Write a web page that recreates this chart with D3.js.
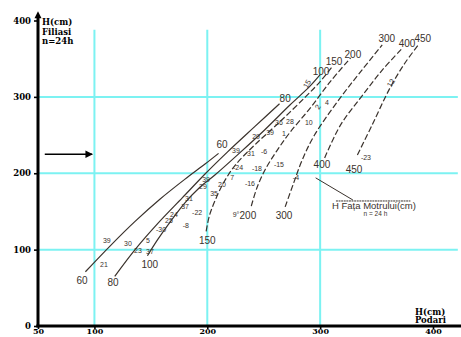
<!DOCTYPE html>
<html>
<head>
<meta charset="utf-8">
<script src="https://cdn.jsdelivr.net/npm/d3@7"></script>
<style>
  html, body { margin: 0; padding: 0; background: #fff; }
  svg { display: block; }
</style>
</head>
<body>
<svg id="chart" width="461" height="337"></svg>
<script>
// ---- axis ticks and grid ----
const xTicks = [50, 100, 200, 300, 400];
const yTicks = [0, 100, 200, 300, 400];
const gridX = [100, 200, 300];
const gridY = [100, 200, 300];

// ---- correlation curves: H Podari (x, cm) against H Filiasi (y, cm) ----
const curveNames = ["60", "80", "100", "150", "200", "300", "400", "450"];
const curve60  = [[92,71],[114,105],[136,137],[158,166],[180,192],[198,212],[210,226]];
const curve80  = [[118,65],[136,100],[156,134],[178,168],[198,199],[218,228],[242,261],[264,291]];
const curve100 = [[147,92],[156,113],[167,136],[180,161],[193,181],[207,198],[229,227],[251,257],[273,289],[291,314],[300,329]];
const curve150 = [[199,124],[202,145],[208,168],[215,189],[225,211],[242,237],[264,267],[287,300],[300,320],[311,340]];
const curve200 = [[239,157],[244,181],[251,204],[261,228],[273,253],[291,285],[309,320],[327,351]];
const curve300 = [[269,156],[276,185],[284,217],[295,250],[319,301],[337,335],[355,368]];
const curve400 = [[304,220],[318,263],[337,301],[355,335],[373,364]];
const curve450 = [[333,224],[346,263],[362,312],[375,344],[387,368]];
const curves = [curve60, curve80, curve100, curve150, curve200, curve300, curve400, curve450];

// curve labels at the lower and upper ends: [text, x, y]
const lowerLabels = [["60",89,60],["80",116.5,57.6],["100",149,80],["150",200,112.6],
                     ["200",236,145.3],["300",268,145.3],["400",301.6,212],["450",330,204.3]];
const upperLabels = [["60",213,237],["80",269,298.5],["100",300.8,332.6],["150",312.3,345.7],
                     ["200",329,356],["300",359,375.8],["400",377,370.5],["450",391,375.8]];
const strayMark = [["9°",225.5,146.5]];

// observation numbers written next to the curves: [text, x, y]
const pointLabels = [
  ["39",111,111.3],["21",108.5,80],["30",129.7,107.4],["5",147.5,111.3],["23",138.6,98.2],
  ["37",149.2,96.9],["-30",159,127],["24",170.5,146.6],["25",166,137.5],["-8",181,131],
  ["-22",191,148],["37",180.3,157],["31",183.8,166.3],["39",198.9,191.2],["29",196.2,182],
  ["20",213,185.9],["35",206,174.1],["7",222,193.8],["-24",227.2,206.9],["-16",237.8,187.2],
  ["-18",244,205.6],["-15",263.5,212],["-4",278.6,195],["39",225.4,230.4],["31",238.7,226.5],
  ["-6",250.3,229],["29",243.2,247.5],["39",255.6,254],["1",268,251.4],["28",273.3,268.4],
  ["36",263.5,265.8],["10",290,265.8],["4",306,292],["-23",340.6,220]
];
const tiltedLabels = [["15",288.4,317],["2",298,286.7],["12",362.8,318.2]];

// arrow marker on the left and the Fața Motrului note
const arrowLine = [[56,225],[98,225]];
const noteLeader = [[296,194],[329,165]];
const noteUnderline = [[314,163.7],[380,163.7]];
const noteTitle = ["H Fața Motrului(cm)", 310.5, 153.2];
const noteSub = ["n = 24 h", 349, 144];

// axis titles
const yTitle = ["H(cm)", "Filiasi", "n=24h"];
const xTitle = ["H(cm)", "Podari"];

// ---- drawing ----
const svg = d3.select("#chart");
const x = d3.scaleLinear().domain([50, 400]).range([38, 433]);
const y = d3.scaleLinear().domain([0, 400]).range([326, 20.5]);

const ink = "#3a322c";
const grid = "#7cf2f2";
const serif = "'DejaVu Serif', 'Liberation Serif', serif";
const hand = "'Liberation Sans', Arial, sans-serif";

// grid
svg.append("g").selectAll("line").data(gridX).join("line")
  .attr("x1", d => x(d)).attr("x2", d => x(d))
  .attr("y1", y(0)).attr("y2", y(388))
  .attr("stroke", grid).attr("stroke-width", 2);
svg.append("g").selectAll("line").data(gridY).join("line")
  .attr("x1", x(50)).attr("x2", x(422))
  .attr("y1", d => y(d)).attr("y2", d => y(d))
  .attr("stroke", grid).attr("stroke-width", 2);

// curves
const line = d3.line().x(d => x(d[0])).y(d => y(d[1])).curve(d3.curveCatmullRom.alpha(0.5));
const dashedSet = new Set(["150", "200", "300", "400", "450"]);
svg.append("g").selectAll("path").data(curves).join("path")
  .attr("d", line)
  .attr("fill", "none")
  .attr("stroke", ink)
  .attr("stroke-width", 1.2)
  .attr("stroke-dasharray", (d, i) => dashedSet.has(curveNames[i]) ? "6,2.5" : null);

// curve end labels
svg.append("g").selectAll("text").data(lowerLabels.concat(upperLabels)).join("text")
  .attr("x", d => x(d[1])).attr("y", d => y(d[2]))
  .attr("text-anchor", "middle").attr("dominant-baseline", "central")
  .attr("font-family", hand).attr("font-size", 10).attr("fill", ink)
  .text(d => d[0]);
svg.append("g").selectAll("text").data(strayMark).join("text")
  .attr("x", d => x(d[1])).attr("y", d => y(d[2]))
  .attr("text-anchor", "middle").attr("dominant-baseline", "central")
  .attr("font-family", hand).attr("font-size", 7).attr("fill", ink)
  .text(d => d[0]);

// observation numbers
svg.append("g").selectAll("text").data(pointLabels).join("text")
  .attr("x", d => x(d[1])).attr("y", d => y(d[2]))
  .attr("text-anchor", "middle").attr("dominant-baseline", "central")
  .attr("font-family", hand).attr("font-size", 7).attr("fill", ink)
  .text(d => d[0]);
svg.append("g").selectAll("text").data(tiltedLabels).join("text")
  .attr("transform", d => `translate(${x(d[1])},${y(d[2])}) rotate(-60)`)
  .attr("text-anchor", "middle").attr("dominant-baseline", "central")
  .attr("font-family", hand).attr("font-size", 7.5).attr("fill", ink)
  .text(d => d[0]);

// arrow
const defs = svg.append("defs");
defs.append("marker").attr("id", "head").attr("viewBox", "0 0 10 10")
  .attr("refX", 9).attr("refY", 5).attr("markerWidth", 5).attr("markerHeight", 5)
  .attr("orient", "auto")
  .append("path").attr("d", "M0,0 L10,5 L0,10 Z").attr("fill", "#000");
svg.append("line")
  .attr("x1", x(arrowLine[0][0])).attr("y1", y(arrowLine[0][1]))
  .attr("x2", x(arrowLine[1][0])).attr("y2", y(arrowLine[1][1]))
  .attr("stroke", "#000").attr("stroke-width", 1.5).attr("marker-end", "url(#head)");

// Fața Motrului note
svg.append("line")
  .attr("x1", x(noteLeader[0][0])).attr("y1", y(noteLeader[0][1]))
  .attr("x2", x(noteLeader[1][0])).attr("y2", y(noteLeader[1][1]))
  .attr("stroke", ink).attr("stroke-width", 1);
svg.append("line")
  .attr("x1", x(noteUnderline[0][0])).attr("y1", y(noteUnderline[0][1]))
  .attr("x2", x(noteUnderline[1][0])).attr("y2", y(noteUnderline[1][1]))
  .attr("stroke", ink).attr("stroke-width", 1).attr("stroke-dasharray", "2,0.6");
svg.append("text").attr("x", x(noteTitle[1])).attr("y", y(noteTitle[2]))
  .attr("font-family", hand).attr("font-size", 9.5).attr("fill", ink).text(noteTitle[0]);
svg.append("text").attr("x", x(noteSub[1])).attr("y", y(noteSub[2]))
  .attr("text-anchor", "middle")
  .attr("font-family", hand).attr("font-size", 6.5).attr("fill", ink).text(noteSub[0]);

// axes
const axisX = svg.append("g").attr("transform", `translate(0,${y(0)})`)
  .call(d3.axisBottom(x).tickValues(xTicks).tickSize(3).tickPadding(-0.5).tickFormat(d3.format("d")));
const axisY = svg.append("g").attr("transform", `translate(${x(50)},0)`)
  .call(d3.axisLeft(y).tickValues(yTicks).tickSize(4).tickPadding(3).tickFormat(d3.format("d")));
[axisX, axisY].forEach(g => {
  g.select(".domain").remove();
  g.selectAll(".tick line").attr("stroke", "#000").attr("stroke-width", 1.6);
  g.selectAll(".tick text").attr("font-family", serif).attr("font-weight", "bold")
    .attr("font-size", 8.5).attr("fill", "#000");
});
axisX.selectAll(".tick text").attr("font-size", 8);

svg.append("line")
  .attr("x1", x(48.5)).attr("x2", x(425)).attr("y1", y(0)).attr("y2", y(0))
  .attr("stroke", "#000").attr("stroke-width", 3);
svg.append("line")
  .attr("x1", x(50)).attr("x2", x(50)).attr("y1", y(-1.5)).attr("y2", y(404))
  .attr("stroke", "#000").attr("stroke-width", 3);
svg.append("path")
  .attr("d", `M${x(50)},${y(412)} L${x(50) - 3.5},${y(403)} L${x(50) + 3.5},${y(403)} Z`)
  .attr("fill", "#000");

// axis titles
svg.append("g").selectAll("text").data(yTitle).join("text")
  .attr("x", x(50) + 4).attr("y", (d, i) => y(398) + 3 + i * 9.5)
  .attr("font-family", serif).attr("font-weight", "bold").attr("font-size", 8.5)
  .attr("fill", "#000").text(d => d);
svg.append("g").selectAll("text").data(xTitle).join("text")
  .attr("x", x(384)).attr("y", (d, i) => y(15) + i * 8.5)
  .attr("font-family", serif).attr("font-weight", "bold").attr("font-size", 8.5)
  .attr("fill", "#000").text(d => d);
</script>
</body>
</html>
